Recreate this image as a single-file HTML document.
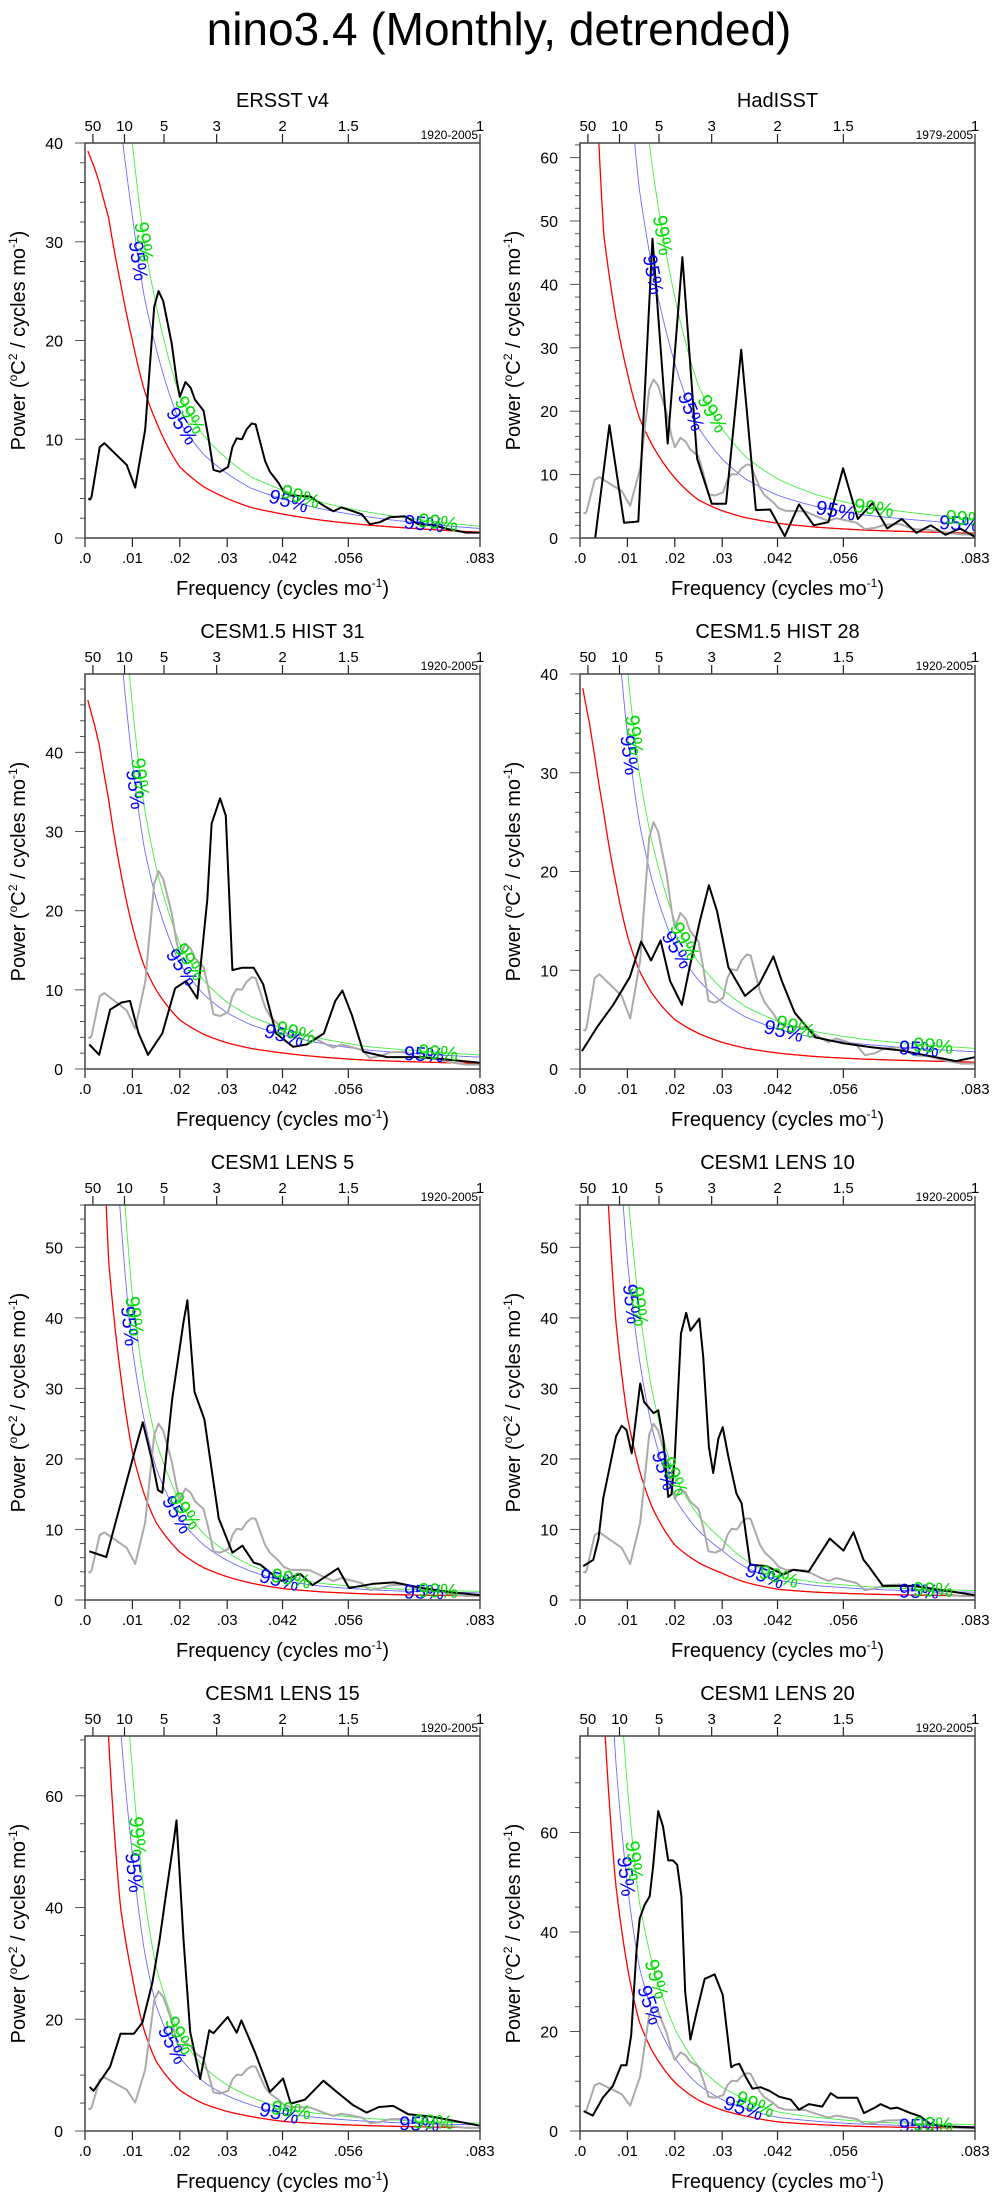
<!DOCTYPE html>
<html><head><meta charset="utf-8"><title>nino3.4 spectra</title>
<style>html,body{margin:0;padding:0;background:#fff}svg{display:block;font-family:"Liberation Sans",sans-serif}</style>
</head><body>
<svg id="fig" width="998" height="2201" viewBox="0 0 998 2201" xmlns="http://www.w3.org/2000/svg">
<text x="499" y="45" text-anchor="middle" font-size="46">nino3.4 (Monthly, detrended)</text>
</svg>
<script>
// ---- data ----
const panelTitles = ["ERSST v4","HadISST","CESM1.5 HIST 31","CESM1.5 HIST 28","CESM1 LENS 5","CESM1 LENS 10","CESM1 LENS 15","CESM1 LENS 20"];
const panelPeriods = ["1920-2005","1979-2005","1920-2005","1920-2005","1920-2005","1920-2005","1920-2005","1920-2005"];
const yMaxes = [40, 62.3, 49.9, 40, 56, 56, 70.7, 79.4];
const yMajor = [10, 10, 10, 10, 10, 10, 20, 20];
const yMinor = [2, 2, 2, 2, 2, 2, 5, 5];
const xTickVals = [0, 0.01, 0.02, 0.03, 0.04167, 0.05556, 0.08333];
const xTickLabels = [".0", ".01", ".02", ".03", ".042", ".056", ".083"];
const topPeriods = [50, 10, 5, 3, 2, 1.5, 1];
const redF = [.001,.002,.003,.005,.0075,.01,.0125,.015,.02,.025,.03,.035,.042,.05,.06,.07,.083];
const red1 = [38.7,37.5,36,32.4,25.8,20,15,11.8,7.2,5.2,4.0,3.1,2.4,1.8,1.3,0.95,0.6];
const red2 = [200,110,80,48,35,26,19,15,9.5,6,4.3,3.2,2.3,1.7,1.25,1.0,0.75];
const red3 = [45.7,43.5,41,34,25,18,13,10,6.2,4.4,3.3,2.6,2.0,1.5,1.1,0.9,0.7];
const red4 = [37.5,35,32,26,19,13.5,10,7.8,5,3.6,2.7,2.1,1.6,1.25,1.0,0.85,0.7];
const red5 = [250,130,85,48,32,21,15,11,6.8,4.6,3.3,2.4,1.6,1.15,0.85,0.7,0.6];
const red6 = [300,180,120,70,40,26,18.5,13.5,7.8,5.3,3.8,2.5,1.5,1.1,0.85,0.7,0.6];
const red7 = [300,190,130,70,40,27.5,18,12.5,7.3,4.9,3.5,2.6,1.7,1.3,0.95,0.75,0.6];
const red8 = [400,250,160,85,50,33,22,16.5,9.8,6.2,4.2,3.0,1.8,1.3,0.9,0.72,0.6];
const k95 = [1.63, 2.9, 2.15, 2.5, 1.7, 1.85, 1.8, 1.5];
const k99 = [2.0, 4.0, 2.55, 3.0, 2.05, 2.25, 2.35, 2.1];
const lab95F = [[.0113,.0205,.043,.0715],[.0155,.0235,.054,.08],[.0107,.0205,.042,.0715],[.0105,.0205,.043,.0715],[.0095,.0195,.041,.0715],[.011,.0178,.039,.0715],[.0104,.0185,.041,.0705],[.0098,.0148,.0345,.0715]];
const lab99F = [[.0125,.0222,.0455,.0745],[.0175,.028,.062,.083],[.0117,.0222,.0445,.0745],[.0115,.0222,.0455,.0745],[.0105,.0212,.0435,.0745],[.0125,.02,.042,.0745],[.0112,.02,.0435,.0735],[.0115,.0162,.037,.0745]];
const ersstF = [.0007,.0011,.0014,.0031,.0041,.0088,.0106,.0127,.0146,.0155,.0165,.0183,.0193,.02,.0212,.0223,.0232,.025,.026,.0271,.0285,.0302,.0311,.032,.0331,.0341,.0352,.036,.038,.039,.0408,.0419,.0433,.0475,.0506,.0524,.0541,.0566,.0584,.0601,.0622,.0643,.0675,.0703,.0735,.0766,.0805,.0833];
const ersstV = [4.0,3.9,4.2,9.2,9.6,7.4,5.1,11,23.4,25,24,19.7,16.1,14.3,15.8,15.2,14,12.9,10.3,6.9,6.7,7.2,9.2,10.1,10,11,11.6,11.5,7.8,6.7,5.6,4.7,4.3,4.2,3.2,2.7,3.1,2.7,2.4,1.4,1.6,2.1,2.2,1.4,1.3,0.9,0.55,0.55];
const hadF = [.0032,.0062,.0093,.0123,.0153,.0185,.0216,.0247,.0278,.0308,.034,.0371,.0401,.0432,.0462,.0493,.0524,.0555,.0586,.0617,.0648,.0679,.071,.074,.0771,.0802,.0833];
const hadV = [0,17.8,2.4,2.6,47.2,14.9,44.3,12.5,5.4,5.4,29.7,4.4,4.5,0.3,5.3,2,2.5,11,3,5.5,1.5,3,0.8,2,0.5,1.5,0.2];
const h31F = [.0009,.003,.0053,.0077,.0095,.0113,.0133,.0163,.019,.0213,.0237,.0258,.0267,.0285,.0297,.0311,.0332,.0356,.0376,.0403,.0439,.0468,.0504,.0528,.0543,.0563,.0587,.0637,.0711,.0833];
const h31V = [3.1,1.8,7.5,8.4,8.6,4.5,1.8,4.5,10.2,11.1,8.9,21.4,31,34.2,32,12.5,12.8,12.8,10.7,4.5,2.8,3.1,4.5,8.6,9.9,6.8,2.2,1.5,1.5,0.8];
const h28F = [.0004,.0037,.007,.0105,.0129,.015,.017,.019,.0215,.023,.0253,.0272,.0289,.0313,.0348,.0378,.0408,.0425,.0453,.0497,.0556,.0615,.0674,.0793,.0833];
const h28V = [1.8,4.3,6.5,9.3,12.9,11,13,8.9,6.5,10,15,18.6,16,10.3,7.4,8.6,11.4,9,5.7,3.2,2.6,2.2,1.9,0.8,1.2];
const l5F = [.0009,.0045,.0083,.0107,.0122,.0142,.0154,.0163,.0184,.0208,.0216,.0231,.0252,.0282,.0311,.0332,.0356,.037,.0394,.0415,.0454,.048,.0534,.0557,.0608,.0652,.0711,.0771,.0833];
const l5V = [6.9,6.1,15.6,21.6,25.2,19.6,15.6,15.2,28.5,39.5,42.5,29.5,25.6,11.6,6.7,7.7,5.3,5,3.7,2.7,3.7,2.1,4.5,1.7,2.3,2.5,1.7,1.1,0.7];
const l10F = [.0007,.0028,.0039,.0049,.0076,.0088,.0098,.0109,.0127,.0135,.0155,.0165,.0176,.0186,.0193,.02,.0213,.0224,.0233,.0252,.026,.0272,.0281,.0292,.0301,.0313,.033,.0341,.0359,.0394,.0429,.045,.0482,.0527,.0556,.0577,.0598,.061,.0639,.0704,.0793,.0833];
const l10V = [4.8,5.7,8.7,14.4,23.2,24.7,24.1,20.8,30.7,28.1,26.5,26.9,22.7,14.6,15,20.3,37.8,40.7,38.2,39.9,34.5,21.7,18,22.9,24.5,20.3,15.1,13.7,5,4.8,3.6,4.3,4,8.7,7,9.6,5.7,4.7,2,2,1.1,0.7];
const l15F = [.001,.0018,.0053,.0075,.0103,.0121,.0142,.0157,.0172,.0187,.0193,.0208,.0222,.0243,.0262,.0271,.0301,.032,.033,.0359,.039,.0418,.0434,.0464,.0503,.0531,.0566,.0594,.062,.065,.0682,.073,.0833];
const l15V = [7.9,7.2,11.5,17.4,17.4,19.4,26.5,34,43,51.7,55.6,34,17.7,9.3,18,17.5,20.4,17.6,19.8,14,7,9.4,4.9,5.6,9,7,4.6,3.3,4.3,4.5,3.0,2.6,0.95];
const l20F = [.0008,.0027,.0048,.0069,.0087,.0098,.0108,.0119,.0126,.0136,.0147,.0154,.0165,.0175,.0186,.0196,.0205,.0214,.0222,.0233,.0247,.0263,.0273,.0284,.0301,.0319,.0327,.0336,.035,.0364,.0381,.0399,.042,.0445,.0462,.0483,.0511,.0529,.0543,.0585,.0599,.0624,.0634,.0655,.0669,.0697,.0719,.074,.0775,.0833];
const l20V = [4,3.1,6.7,9,13.2,13.2,19.3,36,42.7,45.4,47.2,53,64.3,61.2,54.4,54.4,53.5,47.2,27.9,18.4,24.3,30.6,31,31.5,27.4,12.8,13.3,13.5,10.8,8.5,8.8,8.1,6.9,6.3,4.3,5.4,4.9,7.6,6.7,6.7,3.6,4.8,5.4,4.5,4.7,3.6,2.9,1.3,0.9,0.7];
const redSeries = [red1,red2,red3,red4,red5,red6,red7,red8];
const blackF = [ersstF,hadF,h31F,h28F,l5F,l10F,l15F,l20F];
const blackV = [ersstV,hadV,h31V,h28V,l5V,l10V,l15V,l20V];
const showGray = [false,true,true,true,true,true,true,true];

// ---- drawing ----
const NS = "http://www.w3.org/2000/svg";
const svg = document.getElementById("fig");
const PW = 395, PH = 395, XMAX = 1/12;
function mk(tag, attrs, parent){
  const e = document.createElementNS(NS, tag);
  for (const k in attrs) e.setAttribute(k, attrs[k]);
  (parent||svg).appendChild(e);
  return e;
}
function redAt(arr, f){
  let i = 0;
  while (i < redF.length-2 && f > redF[i+1]) i++;
  const t = (f - redF[i])/(redF[i+1]-redF[i]);
  return Math.exp(Math.log(arr[i]) + t*(Math.log(arr[i+1])-Math.log(arr[i])));
}
for (let p = 0; p < 8; p++){
  const col = p % 2, row = Math.floor(p/2);
  const x0 = col ? 580 : 85, y0 = 143 + row*531;
  const ymax = yMaxes[p];
  const X = f => x0 + f/XMAX*PW;
  const Y = v => y0 + PH - v/ymax*PH;
  const g = mk("g", {});
  
  
  const cp = mk("clipPath", {id:"cp"+p}, g);
  mk("rect", {x:x0, y:y0, width:PW, height:PH}, cp);

  const t = mk("text", {x:x0+PW/2, y:y0-36, "text-anchor":"middle", "font-size":"20"}, g);
  t.textContent = panelTitles[p];
  
  

  topPeriods.forEach(P => {
    const x = X(1/(12*P));
    mk("line", {x1:x, x2:x, y1:y0, y2:y0-9, stroke:"#222", "stroke-width":"1.2"}, g);
    const tl = mk("text", {x:x, y:y0-12, "text-anchor":"middle", "font-size":"15"}, g);
    tl.textContent = P;
    
    
  });
  const pr = mk("text", {x:x0+PW-2, y:y0-4, "text-anchor":"end", "font-size":"12"}, g);
  pr.textContent = panelPeriods[p];
  
  

  const mn = yMinor[p], mj = yMajor[p];
  for (let k = 0; k*mn <= ymax + 1e-6; k++){
    const v = k*mn, y = Y(v), major = Math.abs(v % mj) < 1e-6;
    mk("line", {x1:x0, x2:x0-(major?10:5), y1:y, y2:y, stroke:"#555", "stroke-width":"1"}, g);
    if (major){
      const yl = mk("text", {x:x0-22, y:y+6, "text-anchor":"end", "font-size":"16"}, g);
      yl.textContent = v;
      
      
    }
  }
  xTickVals.forEach((f, i) => {
    const x = X(f);
    mk("line", {x1:x, x2:x, y1:y0+PH, y2:y0+PH+9, stroke:"#222", "stroke-width":"1.2"}, g);
    const xl = mk("text", {x:x, y:y0+PH+25, "text-anchor":"middle", "font-size":"15"}, g);
    xl.textContent = xTickLabels[i];
    
    
  });
  const xt = mk("text", {x:x0+PW/2, y:y0+PH+57, "text-anchor":"middle", "font-size":"20"}, g);
  xt.innerHTML = 'Frequency (cycles mo<tspan dy="-8" font-size="12">-1</tspan><tspan dy="8">)</tspan>';
  
  
  const cx = x0 - 60, cy = y0 + PH/2;
  const yt = mk("text", {x:cx, y:cy, "text-anchor":"middle", "font-size":"20", transform:"rotate(-90 "+cx+" "+cy+")"}, g);
  yt.innerHTML = 'Power (<tspan dy="-8" font-size="12">o</tspan><tspan dy="8">C</tspan><tspan dy="-8" font-size="12">2</tspan><tspan dy="8"> / cycles mo</tspan><tspan dy="-8" font-size="12">-1</tspan><tspan dy="8">)</tspan>';
  
  

  const cg = mk("g", {"clip-path":"url(#cp"+p+")"}, g);
  const curves = [[1,"#ff0000","1.3","red-noise-curve"],[k95[p],"#6b6bff","0.9","sig95-curve"],[k99[p],"#44ee44","0.9","sig99-curve"]];
  curves.forEach(c => {
    let d = "";
    for (let f = 0.0006; f <= XMAX + 1e-9; f += 0.0002){
      const v = Math.min(redAt(redSeries[p], f)*c[0], ymax*3);
      d += (d ? "L" : "M") + X(f).toFixed(1) + "," + Y(v).toFixed(1);
    }
    const pa = mk("path", {d:d, fill:"none", stroke:c[1], "stroke-width":c[2]}, cg);
    
    
  });
  if (showGray[p]){
    const d = ersstF.map((f,i) => (i?"L":"M") + X(f).toFixed(1) + "," + Y(ersstV[i]).toFixed(1)).join("");
    const gl = mk("path", {d:d, fill:"none", stroke:"#aaaaaa", "stroke-width":"2", "stroke-linejoin":"round"}, cg);
    
    
  }
  const bf = blackF[p], bv = blackV[p];
  const d2 = bf.map((f,i) => (i?"L":"M") + X(f).toFixed(1) + "," + Y(bv[i]).toFixed(1)).join("");
  const bl = mk("path", {d:d2, fill:"none", stroke:"#000", "stroke-width":"2", "stroke-linejoin":"round"}, cg);
  
  

  [[lab95F[p], k95[p], "#0000ff", "95%"], [lab99F[p], k99[p], "#00dd00", "99%"]].forEach(L => {
    L[0].forEach(f => {
      const ff = Math.min(f, XMAX - 0.002);
      const v = redAt(redSeries[p], ff)*L[1];
      if (v > ymax) return;
      const xa = X(ff - 0.0005), ya = Y(redAt(redSeries[p], ff-0.0005)*L[1]);
      const xb = X(ff + 0.0005), yb = Y(redAt(redSeries[p], ff+0.0005)*L[1]);
      const ang = Math.atan2(yb - ya, xb - xa)*180/Math.PI;
      const px = X(ff), py = Y(v);
      const lt = mk("text", {x:px, y:py+7, "text-anchor":"middle", "font-size":"20", fill:L[2], transform:"rotate("+ang.toFixed(1)+" "+px.toFixed(1)+" "+py.toFixed(1)+")"}, cg);
      lt.textContent = L[3];
      
      
    });
  });
  const fr = mk("rect", {x:x0, y:y0, width:PW, height:PH, fill:"none", stroke:"#444", "stroke-width":"1.5"}, g);
  
  
}
</script>
</body></html>
